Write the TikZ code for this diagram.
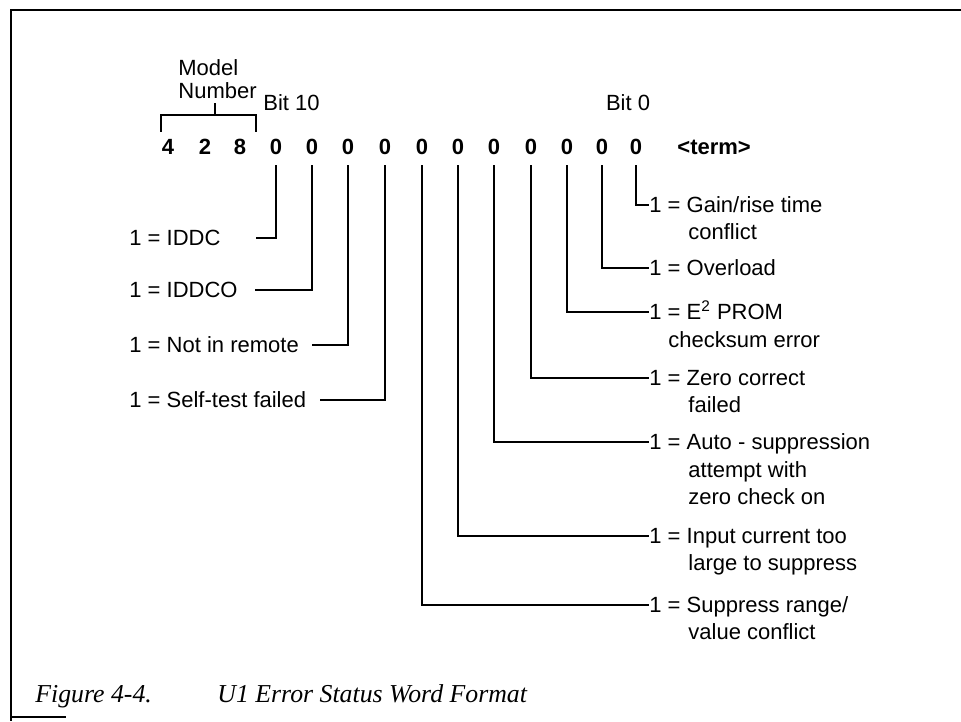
\documentclass[tikz,border=0pt]{standalone}
\usepackage{fontspec}
\setmainfont{Liberation Sans}
\newfontfamily\captionserif{Liberation Serif}
\usetikzlibrary{positioning}

\begin{document}
\begin{tikzpicture}[x=0.5pt, y=-0.5pt, font=\fontsize{11}{13.5}\selectfont,
    bitdigit/.style={font=\fontsize{11}{13.5}\selectfont\bfseries, inner sep=0pt, minimum height=18pt},
    lbl/.style={inner sep=0pt, text height=7.9pt, text depth=0pt},
    lead/.style={line width=1pt}]
    \useasboundingbox (0,0) rectangle (961,721);

    % frame
    \draw[line width=1.4pt] (961,10) -- (11,10) -- (11,721);
    \draw[line width=1.4pt] (11,717) -- (66,717);

    % model number and status bits
    \foreach \x/\d [count=\i] in {168/4, 205/2, 240/8} {
      \node[bitdigit] (m\i) at (\x,147) {\d};
    }
    \foreach \x/\b in {276/10, 312/9, 348/8, 385/7, 422/6, 458/5, 494/4, 531/3, 567/2, 602/1, 636/0} {
      \node[bitdigit] (b\b) at (\x,147) {0};
    }
    \node[bitdigit, anchor=west] (term) at (677,147) {<term>};

    \node[lbl, anchor=west] (bitten) at (263,103) {Bit 10};
    \node[lbl] (bitzero) at (628,103) {Bit 0};

    \node[lbl, anchor=west] (model) at (178,68) {Model};
    \node[lbl, anchor=west] (number) at (178,91) {Number};
    \coordinate (brk) at (215,115);
    \draw[lead] (161,132) |- (256,115) -- (256,132);
    \draw[lead] (brk) -- ([yshift=-2pt]brk |- number.south);

    % bits 10 to 7, labels on the left
    \foreach \b/\y/\e/\t in {10/238/256/IDDC, 9/290/255/IDDCO, 8/345/312/Not in remote, 7/400/320/Self-test failed} {
      \node[lbl, anchor=west] (l\b) at (129,\y) {1 = \t};
      \coordinate (e\b) at (\e,\y);
      \draw[lead] (b\b) |- (e\b);
    }

    % bits 6 to 0, labels on the right
    \foreach \b/\y/\t in {0/205/{Gain/rise time}, 1/268/Overload, 2/312/E\textsuperscript{2} PROM,
        3/378/Zero correct, 4/442/Auto - suppression, 5/536/Input current too, 6/605/{Suppress range/}} {
      \node[lbl, anchor=west] (r\b) at (649,\y) {1 = \t};
      \draw[lead] (b\b) |- (r\b.west);
    }
    \foreach \y/\t [count=\i] in {232/conflict, 405/failed, 470/attempt with, 497/zero check on,
        563/large to suppress, 632/value conflict} {
      \node[lbl, anchor=west] (c\i) at (688,\y) {\t};
    }
    \node[lbl, anchor=west] (chk) at (668,340) {checksum error};

    % caption
    \node[anchor=base west, inner sep=0pt, font=\captionserif\itshape\fontsize{12.9}{15}\selectfont] (fignum) at (35,702) {Figure 4-4.};
    \node[anchor=base west, inner sep=0pt, font=\captionserif\itshape\fontsize{12.9}{15}\selectfont] (figtitle) at (217,702) {U1 Error Status Word Format};
\end{tikzpicture}
\end{document}
